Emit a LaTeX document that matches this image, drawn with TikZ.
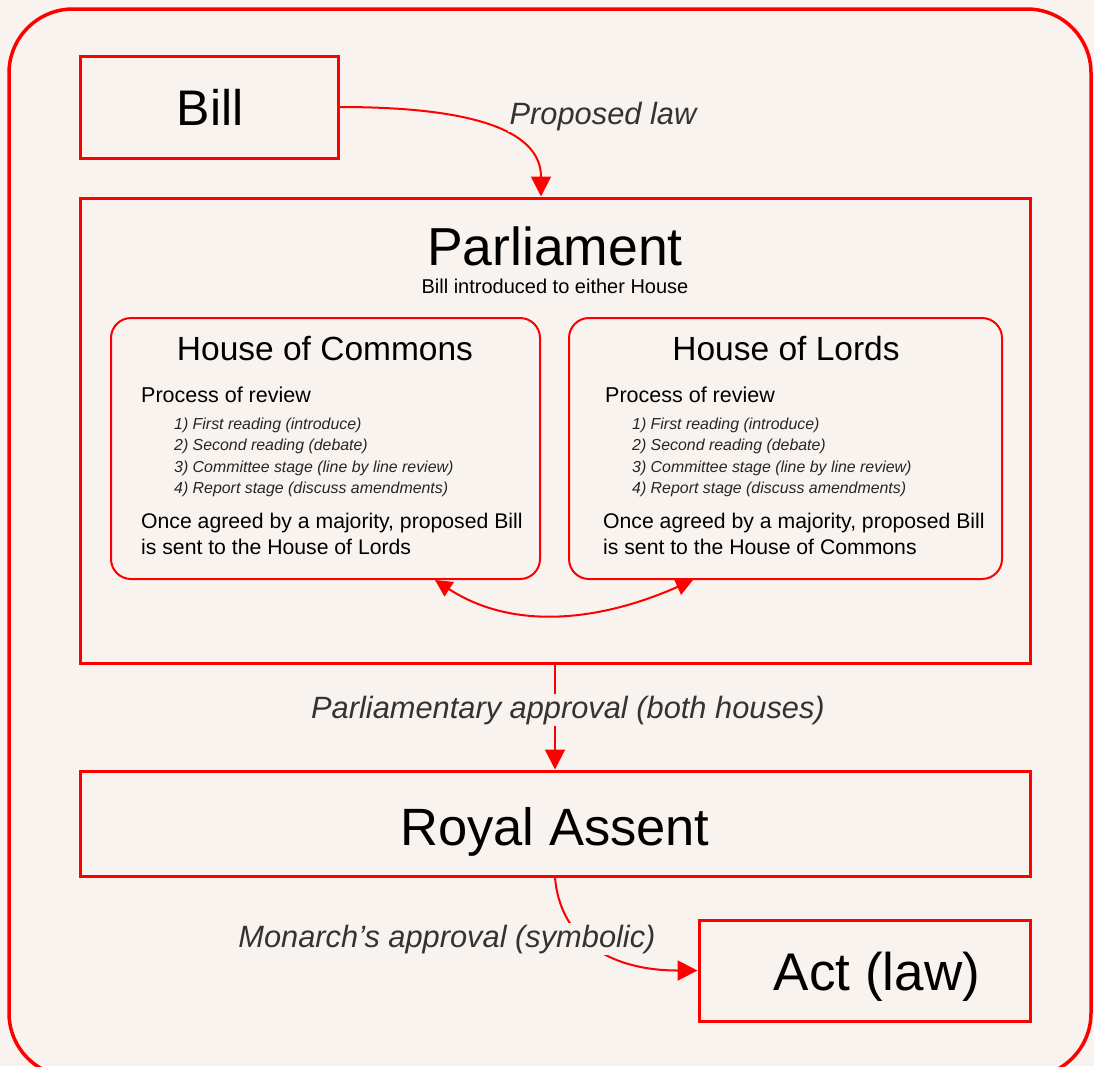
\documentclass[tikz,border=0pt]{standalone}
\usepackage{fontspec}
\setmainfont{Liberation Sans}
\usetikzlibrary{arrows.meta}

\definecolor{paper}{HTML}{F8F3EF}
\definecolor{lawred}{HTML}{FF0000}

\newcommand{\fsz}[1]{\fontsize{#1}{#1}\selectfont}

\begin{document}
\begin{tikzpicture}[x=1pt, y=-1pt,
    stage/.style = {draw=lawred, line width=3pt, inner sep=0pt},
    house/.style = {draw=lawred, line width=2pt, rounded corners=20pt, inner sep=0pt},
    flow/.style = {draw=lawred, line width=2pt, -{Triangle[length=20pt, width=20pt]}},
    swap/.style = {draw=lawred, line width=2pt, {Triangle[length=17pt, width=17pt]}-{Triangle[length=17pt, width=17pt]}},
    note/.style = {font=\fsz{30.8}\itshape, text=black!80, fill=paper, inner sep=2pt, anchor=base},
    item/.style = {font=\fsz{15.9}\itshape, text=black!85, inner sep=0pt, anchor=base west}]

    % page and outer frame
    \fill[paper] (0,0) rectangle (1094,1066);
    \useasboundingbox (0,0) rectangle (1094,1066);
    \begin{scope}
        \clip (0,0) rectangle (1094,1066);
        \draw[lawred, line width=3.5pt, rounded corners=64pt] (9,9) rectangle (1091,1077);
    \end{scope}

    % boxes
    \node[stage, minimum width=258pt, minimum height=102pt] (bill) at (209,107) {};
    \node[stage, minimum width=950pt, minimum height=465pt] (parl) at (555,430.5) {};
    \node[house, minimum width=429pt, minimum height=261pt] (commons) at (325.5,448.5) {};
    \node[house, minimum width=433pt, minimum height=261pt] (lords) at (785.5,448.5) {};
    \node[stage, minimum width=950pt, minimum height=105pt] (royal) at (555,823.5) {};
    \node[stage, minimum width=331pt, minimum height=101pt] (act) at (864.5,970.5) {};

    % titles
    \node[inner sep=0pt, anchor=base, font=\fsz{50}] (billtxt) at (210,125) {Bill};
    \node[inner sep=0pt, anchor=base, font=\fsz{53.5}] (parltxt) at (555,265) {Parliament};
    \node[inner sep=0pt, anchor=base, font=\fsz{20}] (parlsub) at (555,293) {Bill introduced to either House};
    \node[inner sep=0pt, anchor=base, font=\fsz{52.5}] (royaltxt) at (555,845) {Royal Assent};
    \node[inner sep=0pt, anchor=base, font=\fsz{53}] (acttxt) at (877,990) {Act (law)};

    % House of Commons
    \node[inner sep=0pt, anchor=base, font=\fsz{33.5}] (comtitle) at (325,360) {House of Commons};
    \node[inner sep=0pt, anchor=base west, font=\fsz{21.5}] (comproc) at (141,402) {Process of review};
    \foreach \txt [count=\i] in {1) First reading (introduce), 2) Second reading (debate),
        3) Committee stage (line by line review), 4) Report stage (discuss amendments)}
        \node[item] (comstep\i) at (174,{407.5+21.5*\i}) {\txt};
    \node[inner sep=0pt, anchor=base west, font=\fsz{21.2}] (comsend1) at (141,528) {Once agreed by a majority, proposed Bill};
    \node[inner sep=0pt, anchor=base west, font=\fsz{21.2}] (comsend2) at (141,554) {is sent to the House of Lords};

    % House of Lords
    \node[inner sep=0pt, anchor=base, font=\fsz{33.5}] (lordtitle) at (786,360) {House of Lords};
    \node[inner sep=0pt, anchor=base west, font=\fsz{21.5}] (lordproc) at (605,402) {Process of review};
    \foreach \txt [count=\i] in {1) First reading (introduce), 2) Second reading (debate),
        3) Committee stage (line by line review), 4) Report stage (discuss amendments)}
        \node[item] (lordstep\i) at (632,{407.5+21.5*\i}) {\txt};
    \node[inner sep=0pt, anchor=base west, font=\fsz{21.2}] (lordsend1) at (603,528) {Once agreed by a majority, proposed Bill};
    \node[inner sep=0pt, anchor=base west, font=\fsz{21.2}] (lordsend2) at (603,554) {is sent to the House of Commons};

    % connectors
    \draw[flow] (bill.east) .. controls +(150,0) and +(0,-60) .. ([xshift=-14pt]parl.north);
    \draw[swap] ([xshift=109.5pt]commons.south) .. controls +(80,52) and +(-90,40) .. ([xshift=-92.5pt]lords.south);
    \draw[flow] (parl.south) -- (royal.north);
    \draw[flow] (royal.south) .. controls +(5,60) and +(-90,0) .. (act.west);

    % labels
    \node[note] (proplaw) at (603,124) {Proposed law};
    \node[note] (parlok) at (568,718) {Parliamentary approval (both houses)};
    \node[note] (monok) at (447,947) {Monarch’s approval (symbolic)};
\end{tikzpicture}
\end{document}
